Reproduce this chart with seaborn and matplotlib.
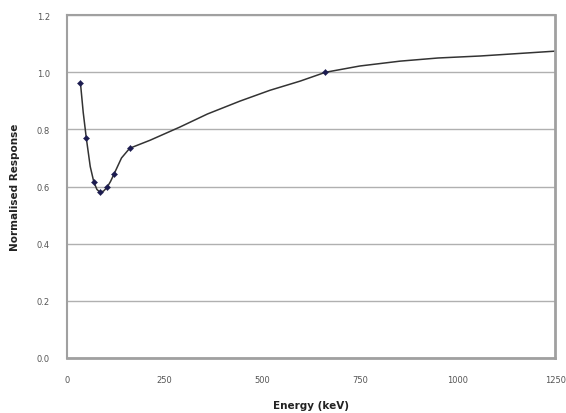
import numpy as np
import pandas as pd
import seaborn as sns
import matplotlib

matplotlib.use("Agg")
import matplotlib.pyplot as plt

# measured points (markers)
energy_pts = [35, 50, 69, 85, 103, 121, 161, 662]
response_pts = [0.962, 0.769, 0.617, 0.580, 0.597, 0.644, 0.734, 1.000]

# smoothed trend line
energy_line = [35, 42, 50, 60, 69, 77, 85, 94, 103, 112, 121, 140, 161, 213, 289, 360,
               443, 520, 597, 662, 750, 853, 950, 1058, 1250]
response_line = [0.962, 0.860, 0.769, 0.670, 0.617, 0.590, 0.580, 0.584, 0.597, 0.618,
                 0.644, 0.700, 0.734, 0.762, 0.808, 0.854, 0.899, 0.937, 0.969, 1.000,
                 1.022, 1.039, 1.050, 1.057, 1.074]

x_ticks = [0, 250, 500, 750, 1000, 1250]
y_ticks = [0.0, 0.2, 0.4, 0.6, 0.8, 1.0, 1.2]

df_pts = pd.DataFrame({"energy": energy_pts, "response": response_pts})
df_line = pd.DataFrame({"energy": energy_line, "response": response_line})

sns.set_style("white")
fig = plt.figure(figsize=(5.66, 4.14), dpi=100)
ax = fig.add_axes([0.118, 0.133, 0.863, 0.828])

sns.lineplot(x="energy", y="response", data=df_line, color="#333333", lw=1.1,
             sort=False, ax=ax)
sns.scatterplot(x="energy", y="response", data=df_pts, marker="D", s=10,
                color="#1c1c50", edgecolor="#1c1c50", ax=ax, zorder=3)

ax.set_xlim(0, 1250)
ax.set_ylim(0, 1.2)
ax.set_xticks(x_ticks)
ax.set_xticklabels([str(t) for t in x_ticks])
ax.set_yticks(y_ticks)
ax.set_yticklabels([f"{t:.1f}" for t in y_ticks])
ax.yaxis.grid(True, color="#b0b0b0", lw=1.0)
ax.set_axisbelow(True)
ax.tick_params(labelsize=6, colors="#555555", length=2, pad=10)
for s in ax.spines.values():
    s.set_color("#a0a0a0")
    s.set_linewidth(1.5)
ax.spines["bottom"].set_linewidth(2.0)
ax.spines["right"].set_linewidth(2.0)

ax.set_xlabel("Energy (keV)", fontsize=7.5, fontweight="bold", color="#222222", labelpad=12)
ax.set_ylabel("Normalised Response", fontsize=7.5, fontweight="bold", color="#222222", labelpad=12)

fig.savefig("out.png", dpi=100)
